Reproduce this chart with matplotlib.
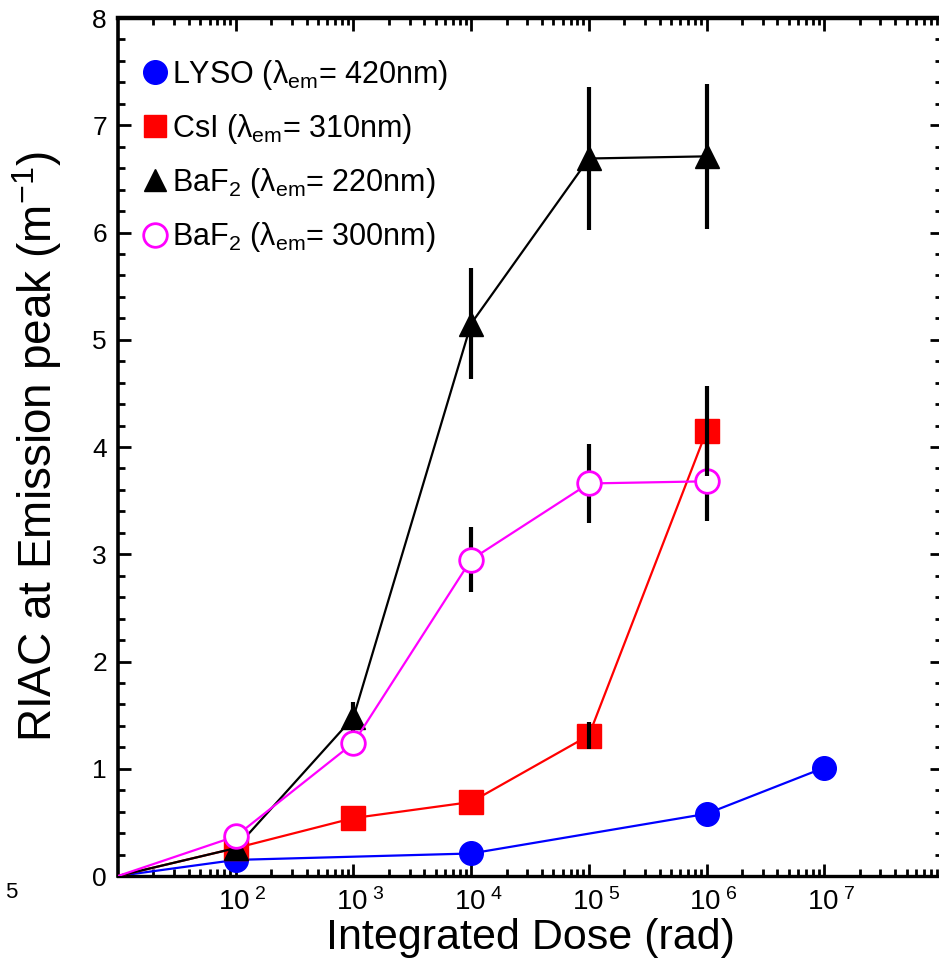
import matplotlib
matplotlib.use("Agg")
import matplotlib.pyplot as plt
import matplotlib.transforms as mtransforms
from matplotlib.lines import Line2D
from matplotlib.ticker import LogLocator, MultipleLocator, FixedLocator, NullFormatter

plt.rcParams['font.family'] = ['Liberation Sans', 'DejaVu Sans']
plt.rcParams['mathtext.fontset'] = 'custom'
plt.rcParams['mathtext.rm'] = 'Liberation Sans'
plt.rcParams['mathtext.it'] = 'Liberation Sans'
plt.rcParams['mathtext.default'] = 'regular'

# ---- data ----
lyso_dose = [10, 1e2, 1e4, 1e6, 1e7]
lyso_riac = [0.0, 0.15, 0.21, 0.58, 1.01]

csi_dose = [10, 1e2, 1e3, 1e4, 1e5, 1e6]
csi_riac = [0.0, 0.26, 0.54, 0.69, 1.31, 4.15]
csi_err = [0.0, 0.0, 0.0, 0.0, 0.13, 0.42]

baf220_dose = [10, 1e2, 1e3, 1e4, 1e5, 1e6]
baf220_riac = [0.0, 0.26, 1.48, 5.15, 6.69, 6.71]
baf220_err = [0.0, 0.0, 0.14, 0.52, 0.67, 0.675]

baf300_dose = [10, 1e2, 1e3, 1e4, 1e5, 1e6]
baf300_riac = [0.0, 0.37, 1.24, 2.95, 3.66, 3.68]
baf300_err = [0.0, 0.0, 0.0, 0.30, 0.37, 0.37]

labels = [r"LYSO ($\lambda_{em}$= 420nm)",
          r"CsI ($\lambda_{em}$= 310nm)",
          r"BaF$_{2}$ ($\lambda_{em}$= 220nm)",
          r"BaF$_{2}$ ($\lambda_{em}$= 300nm)"]

x_major = [1e2, 1e3, 1e4, 1e5, 1e6, 1e7]
x_major_labels = [r"$10^{\ 2}$", r"$10^{\ 3}$", r"$10^{\ 4}$", r"$10^{\ 5}$", r"$10^{\ 6}$", r"$10^{\ 7}$"]
y_ticks = [0, 1, 2, 3, 4, 5, 6, 7, 8]

fig = plt.figure(figsize=(9.39, 9.65), dpi=100)
ax = fig.add_axes([118/939, 1 - 876/965, (942 - 118)/939, (876 - 18)/965])

def pts(d, v):
    return d[1:], v[1:]

lw = 1.6
ebw = 3.0

# LYSO
ax.plot(lyso_dose, lyso_riac, color='blue', lw=lw, zorder=2)
ax.plot(*pts(lyso_dose, lyso_riac), ls='none', marker='o', ms=17, color='blue', mec='blue', zorder=2.1)

# CsI
ax.plot(csi_dose, csi_riac, color='red', lw=lw, zorder=3)
ax.plot(*pts(csi_dose, csi_riac), ls='none', marker='s', ms=17, color='red', mec='red', zorder=3.1)
ax.errorbar(csi_dose, csi_riac, yerr=csi_err, fmt='none', ecolor='black', elinewidth=ebw, capsize=0, zorder=6)

# BaF2 220
ax.errorbar(baf220_dose, baf220_riac, yerr=baf220_err, fmt='none', ecolor='black', elinewidth=ebw, capsize=0, zorder=3.5)
ax.plot(baf220_dose, baf220_riac, color='black', lw=lw, zorder=4)
ax.plot(*pts(baf220_dose, baf220_riac), ls='none', marker='^', ms=17, color='black', zorder=4.1)

# BaF2 300
ax.errorbar(baf300_dose, baf300_riac, yerr=baf300_err, fmt='none', ecolor='black', elinewidth=ebw, capsize=0, zorder=4.5)
ax.plot(baf300_dose, baf300_riac, color='magenta', lw=lw, zorder=5)
ax.plot(*pts(baf300_dose, baf300_riac), ls='none', marker='o', ms=17, mfc='white', mec='magenta', mew=2.0, zorder=5.1)

ax.set_xscale('log')
ax.set_xlim(10, 1e8)
ax.set_ylim(0, 8)

ax.xaxis.set_major_locator(FixedLocator(x_major))
ax.set_xticklabels(x_major_labels)
ax.xaxis.set_minor_locator(LogLocator(base=10, subs=[2, 3, 4, 5, 6, 7, 8, 9], numticks=20))
ax.xaxis.set_minor_formatter(NullFormatter())
ax.set_yticks(y_ticks)
ax.set_yticklabels([str(v) for v in y_ticks])
ax.yaxis.set_minor_locator(MultipleLocator(0.2))

ax.tick_params(which='both', direction='in', top=True, right=True, color='black')
ax.tick_params(axis='x', which='major', labelsize=20, pad=9)
ax.tick_params(axis='y', which='major', labelsize=19, pad=8)
ax.tick_params(which='major', length=9, width=2.0)
ax.tick_params(which='minor', length=5, width=2.0)

shift = mtransforms.ScaledTranslation(5/72, 0, fig.dpi_scale_trans)
for lab in ax.get_xticklabels():
    lab.set_transform(lab.get_transform() + shift)

for side, w in [('left', 2.6), ('bottom', 2.4), ('top', 3.2), ('right', 2.6)]:
    ax.spines[side].set_linewidth(w)

ax.set_xlabel("Integrated Dose (rad)", fontsize=31, labelpad=1)
ax.set_ylabel(r"RIAC at Emission peak (m$^{-1}$)", fontsize=33, labelpad=20)

handles = [
    Line2D([], [], ls='none', marker='o', ms=17, color='blue'),
    Line2D([], [], ls='none', marker='s', ms=16, color='red'),
    Line2D([], [], ls='none', marker='^', ms=16, color='black'),
    Line2D([], [], ls='none', marker='o', ms=17, mfc='white', mec='magenta', mew=2.0),
]
ax.legend(handles, labels, loc='upper left', bbox_to_anchor=(0.008, 0.975), frameon=False,
          fontsize=22, handlelength=0.8, handletextpad=0.15, labelspacing=0.66,
          borderaxespad=0.2)

fig.text(5/939, 1 - 893/965, "5", fontsize=16, ha='left', va='center')

fig.savefig("out.png", dpi=100)
